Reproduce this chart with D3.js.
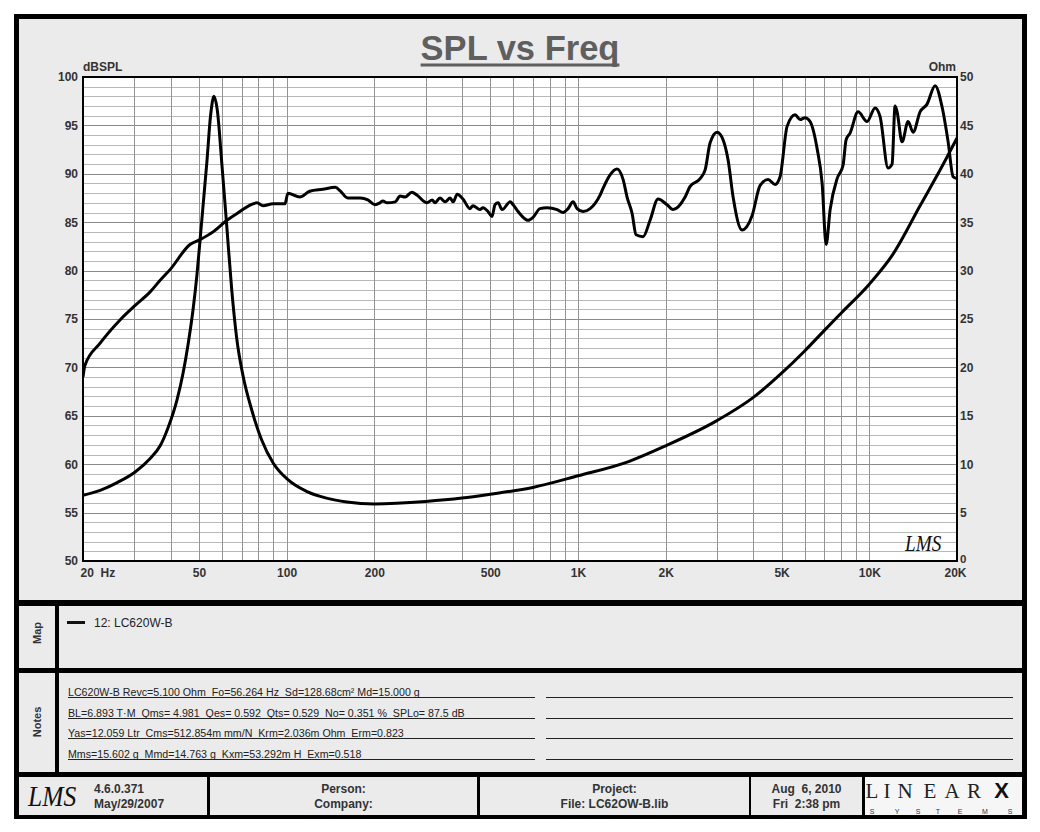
<!DOCTYPE html>
<html><head><meta charset="utf-8">
<script src="https://cdn.jsdelivr.net/npm/d3@7"></script>
<style>
body{margin:0;background:#fff}
svg{display:block}
text{font-family:"Liberation Sans",Arial,sans-serif}
</style>
</head><body>
<svg id="c" width="1040" height="832"></svg>
<script>
// ---------- data ----------
const splFreq = [20,20.3,22.9,26.8,30.2,34,36.8,39.8,46.6,50.4,55.9,62.4,67.6,79.1,83,89.8,98.7,101,111,120,133,147,153,162,179,190,201,209,214,221,236,245,255,269,280,303,316,323,336,350,364,373,385,403,426,436,461,472,491,507,519,532,549,585,599,623,674,701,741,783,848,889,925,962,993,1041,1101,1145,1191,1219,1289,1362,1429,1474,1534,1583,1673,1768,1883,2022,2120,2332,2426,2626,2732,2842,3004,3150,3277,3408,3658,3962,4220,4494,4750,4940,5222,5562,5786,6020,6262,6620,6888,7108,7338,7754,8128,8324,8590,9152,9826,10468,10890,11600,11972,12260,12456,12956,13586,14140,14938,15790,16820,17778,18646,19394,20000];
const splDb = [69.0,70.2,72.5,74.9,76.4,77.8,79.0,80.1,82.7,83.2,84.0,85.2,85.9,87.0,86.7,86.9,86.9,88.0,87.6,88.2,88.4,88.6,88.2,87.5,87.5,87.3,86.8,87.0,87.2,87.0,87.1,87.7,87.6,88.1,87.8,87.0,87.3,87.0,87.5,87.1,87.5,87.1,87.9,87.4,86.4,86.7,86.3,86.5,86.1,85.6,86.8,87.0,86.3,87.1,86.8,86.1,85.2,85.5,86.4,86.5,86.3,86.0,86.4,87.1,86.4,86.1,86.4,86.95,87.8,88.5,89.9,90.5,89.4,87.6,85.9,83.7,83.5,85.2,87.4,86.8,86.3,87.6,88.7,89.5,90.4,93.2,94.3,93.5,91.4,87.6,84.2,85.7,88.8,89.4,88.9,89.7,94.9,96.1,95.6,95.8,95.4,92.6,89.0,82.7,86.3,89.5,90.9,93.5,94.2,96.4,95.4,96.8,95.9,90.6,91.0,97.0,96.4,93.3,95.4,94.3,96.4,97.2,99.1,96.9,93.3,89.7,89.5];

const zFreq = [20,22.9,26.2,30.2,34,36.8,39.2,42,44.1,45.9,47.7,49.2,50.8,53.2,54.9,56.3,57.8,59.9,62.3,64.8,67.4,71,75.9,82.1,90,101,117,137,161,200,300,400,500,700,1000,1500,2000,3000,4000,5000,6000,7000,8000,10000,12000,15000,17800,20000];
const zOhm = [6.8,7.3,8.1,9.2,10.6,11.9,13.8,16.6,19.4,22.4,25.9,29.5,34.2,41.1,46.2,48.0,46.6,41.1,34.6,28.0,23.0,19.0,15.6,12.5,10.1,8.4,7.2,6.5,6.1,5.9,6.15,6.5,6.9,7.6,8.8,10.3,11.9,14.5,16.9,19.4,21.7,23.8,25.6,28.6,31.6,36.8,40.8,43.7];

const xTicks = [20,50,100,200,500,1000,2000,5000,10000,20000];
const xTickLabels = ["20  Hz","50","100","200","500","1K","2K","5K","10K","20K"];
const xGrid = [30,40,50,60,70,80,90,100,200,300,400,500,600,700,800,900,1000,2000,3000,4000,5000,6000,7000,8000,9000,10000];
const leftTicks = [50,55,60,65,70,75,80,85,90,95,100];
const rightTicks = [0,5,10,15,20,25,30,35,40,45,50];
const legendLabel = "12: LC620W-B";
const notesLines = [
  "LC620W-B Revc=5.100 Ohm  Fo=56.264 Hz  Sd=128.68cm² Md=15.000 g",
  "BL=6.893 T·M  Qms= 4.981  Qes= 0.592  Qts= 0.529  No= 0.351 %  SPLo= 87.5 dB",
  "Yas=12.059 Ltr  Cms=512.854m mm/N  Krm=2.036m Ohm  Erm=0.823",
  "Mms=15.602 g  Mmd=14.763 g  Kxm=53.292m H  Exm=0.518"
];
const footerCells = [
  {lines:["Person:","Company:"]},
  {lines:["Project:","File: LC62OW-B.lib"]},
  {lines:["Aug  6, 2010","Fri  2:38 pm"]}
];
const versionLines = ["4.6.0.371","May/29/2007"];
const logoLetters = ["L","I","N","E","A","R"];
const logoSub = ["S","Y","S","T","E","M","S"];

// ---------- layout ----------
const svg = d3.select("#c");
const L = 83, R = 957, T = 77, B = 561;
const bg = "#ebebeb";

svg.append("rect").attr("x",14).attr("y",14).attr("width",1013).attr("height",805).attr("fill","#000");
const panels = [
  [19,19,1003,581],
  [19,606,36,62],[59,606,963,62],
  [19,673,36,99],[59,673,963,99],
  [19,777,188,38],[210,777,267,38],[480,777,269,38],[751,777,111,38]
];
panels.forEach(p=>svg.append("rect").attr("x",p[0]).attr("y",p[1]).attr("width",p[2]).attr("height",p[3]).attr("fill",bg));
svg.append("rect").attr("x",865).attr("y",777).attr("width",157).attr("height",38).attr("fill","#f6f6f6");

// title
const title = svg.append("text").attr("x",520).attr("y",59.5).attr("text-anchor","middle")
  .attr("font-size",34.5).attr("font-weight","bold").attr("fill","#5f5f5f").text("SPL vs Freq");
const tw = title.node().getComputedTextLength();
svg.append("rect").attr("x",520-tw/2).attr("y",63.5).attr("width",tw).attr("height",3).attr("fill","#5f5f5f");

// scales
const x = d3.scaleLog().domain([20,20000]).range([L,R]);
const y = d3.scaleLinear().domain([50,100]).range([B,T]);
const yR = d3.scaleLinear().domain([0,50]).range([B,T]);

// plot background
svg.append("rect").attr("x",L).attr("y",T).attr("width",R-L).attr("height",B-T).attr("fill","#fff");

// grid
const g = svg.append("g");
g.selectAll(".hm").data(d3.range(51,100)).join("line")
  .attr("x1",L).attr("x2",R).attr("y1",d=>Math.round(y(d))+0.5).attr("y2",d=>Math.round(y(d))+0.5)
  .attr("stroke",d=>d%5===0?"#8a8a8a":"#b8b8b8").attr("stroke-width",1);
g.selectAll(".vg").data(xGrid).join("line")
  .attr("x1",d=>Math.round(x(d))+0.5).attr("x2",d=>Math.round(x(d))+0.5).attr("y1",T).attr("y2",B)
  .attr("stroke","#939393").attr("stroke-width",1);

// curves
svg.append("clipPath").attr("id","clip").append("rect").attr("x",L).attr("y",T-2).attr("width",R-L).attr("height",B-T+2);
const splData = splFreq.map((f,i)=>({f,v:splDb[i]}));
const zData = zFreq.map((f,i)=>({f,v:zOhm[i]}));
const lineSpl = d3.line().x(d=>x(d.f)).y(d=>y(d.v)).curve(d3.curveMonotoneX);
const lineZ = d3.line().x(d=>x(d.f)).y(d=>yR(d.v)).curve(d3.curveMonotoneX);
const cg = svg.append("g").attr("clip-path","url(#clip)");
cg.append("path").attr("d",lineZ(zData)).attr("fill","none").attr("stroke","#000").attr("stroke-width",3).attr("stroke-linejoin","round");
cg.append("path").attr("d",lineSpl(splData)).attr("fill","none").attr("stroke","#000").attr("stroke-width",3).attr("stroke-linejoin","round");

// frame
svg.append("rect").attr("x",L).attr("y",T).attr("width",R-L).attr("height",B-T).attr("fill","none").attr("stroke","#000").attr("stroke-width",2);

// axes
const axStyle = sel=>{
  sel.select(".domain").remove();
  sel.selectAll(".tick line").remove();
  sel.selectAll("text").attr("font-family","'Liberation Sans',Arial,sans-serif").attr("font-size",12).attr("font-weight","bold").attr("fill","#333");
};
svg.append("g").attr("transform",`translate(${L-5},0)`)
  .call(d3.axisLeft(y).tickValues(leftTicks).tickSize(0).tickPadding(0).tickFormat(d3.format("d"))).call(axStyle);
const ra = svg.append("g").attr("transform",`translate(${R+3},0)`)
  .call(d3.axisRight(yR).tickValues(rightTicks).tickSize(0).tickPadding(0).tickFormat(d3.format("d"))).call(axStyle);
ra.selectAll("text").filter(d=>d===0).attr("dy","0.1em").attr("font-size",11.5);
const xa = svg.append("g").attr("transform",`translate(0,${B+7})`)
  .call(d3.axisBottom(x).tickValues(xTicks).tickSize(0).tickPadding(0).tickFormat((d,i)=>xTickLabels[i])).call(axStyle);
xa.selectAll("text").attr("dy","0.71em").style("white-space","pre");
xa.selectAll("text").filter((d,i)=>i===0).attr("text-anchor","start").attr("dx",-3);
xa.selectAll("text").filter((d,i)=>i===xTicks.length-1).attr("dx",-2);

svg.append("text").attr("x",L).attr("y",71).attr("font-size",12).attr("font-weight","bold").attr("fill","#333").text("dBSPL");
svg.append("text").attr("x",R-1).attr("y",71).attr("text-anchor","end").attr("font-size",12).attr("font-weight","bold").attr("fill","#333").text("Ohm");

// in-plot LMS logo
svg.append("text").attr("transform","translate(905,551) scale(0.8,1)")
  .attr("font-style","italic").attr("font-size",24).attr("fill","#111").style("font-family","'Liberation Serif',serif").text("LMS");

// map
svg.append("text").attr("transform","translate(41,633) rotate(-90)").attr("text-anchor","middle")
  .attr("font-size",11).attr("font-weight","bold").attr("fill","#333").text("Map");
svg.append("line").attr("x1",67).attr("x2",85).attr("y1",622.5).attr("y2",622.5).attr("stroke","#111").attr("stroke-width",3);
svg.append("text").attr("x",94).attr("y",626.5).attr("font-size",12).attr("fill","#222").text(legendLabel);

// notes
svg.append("text").attr("transform","translate(41,722) rotate(-90)").attr("text-anchor","middle")
  .attr("font-size",11).attr("font-weight","bold").attr("fill","#333").text("Notes");
const noteY = [697,718,738,759];
noteY.forEach((ly,i)=>{
  svg.append("line").attr("x1",68).attr("x2",535).attr("y1",ly+0.5).attr("y2",ly+0.5).attr("stroke","#222");
  svg.append("line").attr("x1",546).attr("x2",1013).attr("y1",ly+0.5).attr("y2",ly+0.5).attr("stroke","#222");
  svg.append("text").attr("x",68).attr("y",ly-1.5).attr("font-size",10.65).attr("fill","#222").style("white-space","pre").text(notesLines[i]);
});

// footer
svg.append("text").attr("transform","translate(28,806) scale(0.85,1)").attr("font-style","italic").attr("font-size",30)
  .attr("fill","#111").style("font-family","'Liberation Serif',serif").text("LMS");
versionLines.forEach((t,i)=>svg.append("text").attr("x",94).attr("y",793+i*14.5).attr("font-size",12).attr("font-weight","bold").attr("fill","#333").text(t));
const cellCenters = [343.5,614.5,806.5];
footerCells.forEach((c,j)=>c.lines.forEach((t,i)=>svg.append("text").attr("x",cellCenters[j]).attr("y",793+i*14.5)
  .attr("text-anchor","middle").attr("font-size",12).attr("font-weight","bold").attr("fill","#333").style("white-space","pre").text(t)));

// LINEARX logo
const logoX = [872,887,905,930,952,974];
logoLetters.forEach((ch,i)=>svg.append("text").attr("x",logoX[i]).attr("y",798).attr("text-anchor","middle").attr("font-size",21).attr("fill","#222")
  .style("font-family","'Liberation Serif',serif").text(ch));
svg.append("text").attr("x",1001.5).attr("y",798).attr("text-anchor","middle").attr("font-size",22).attr("font-weight","bold").attr("fill","#111").text("X");
const subX = [872,897,918,938,960,985,1010];
logoSub.forEach((ch,i)=>svg.append("text").attr("x",subX[i]).attr("y",814).attr("text-anchor","middle").attr("font-size",7).attr("fill","#333").text(ch));
</script>
</body></html>
